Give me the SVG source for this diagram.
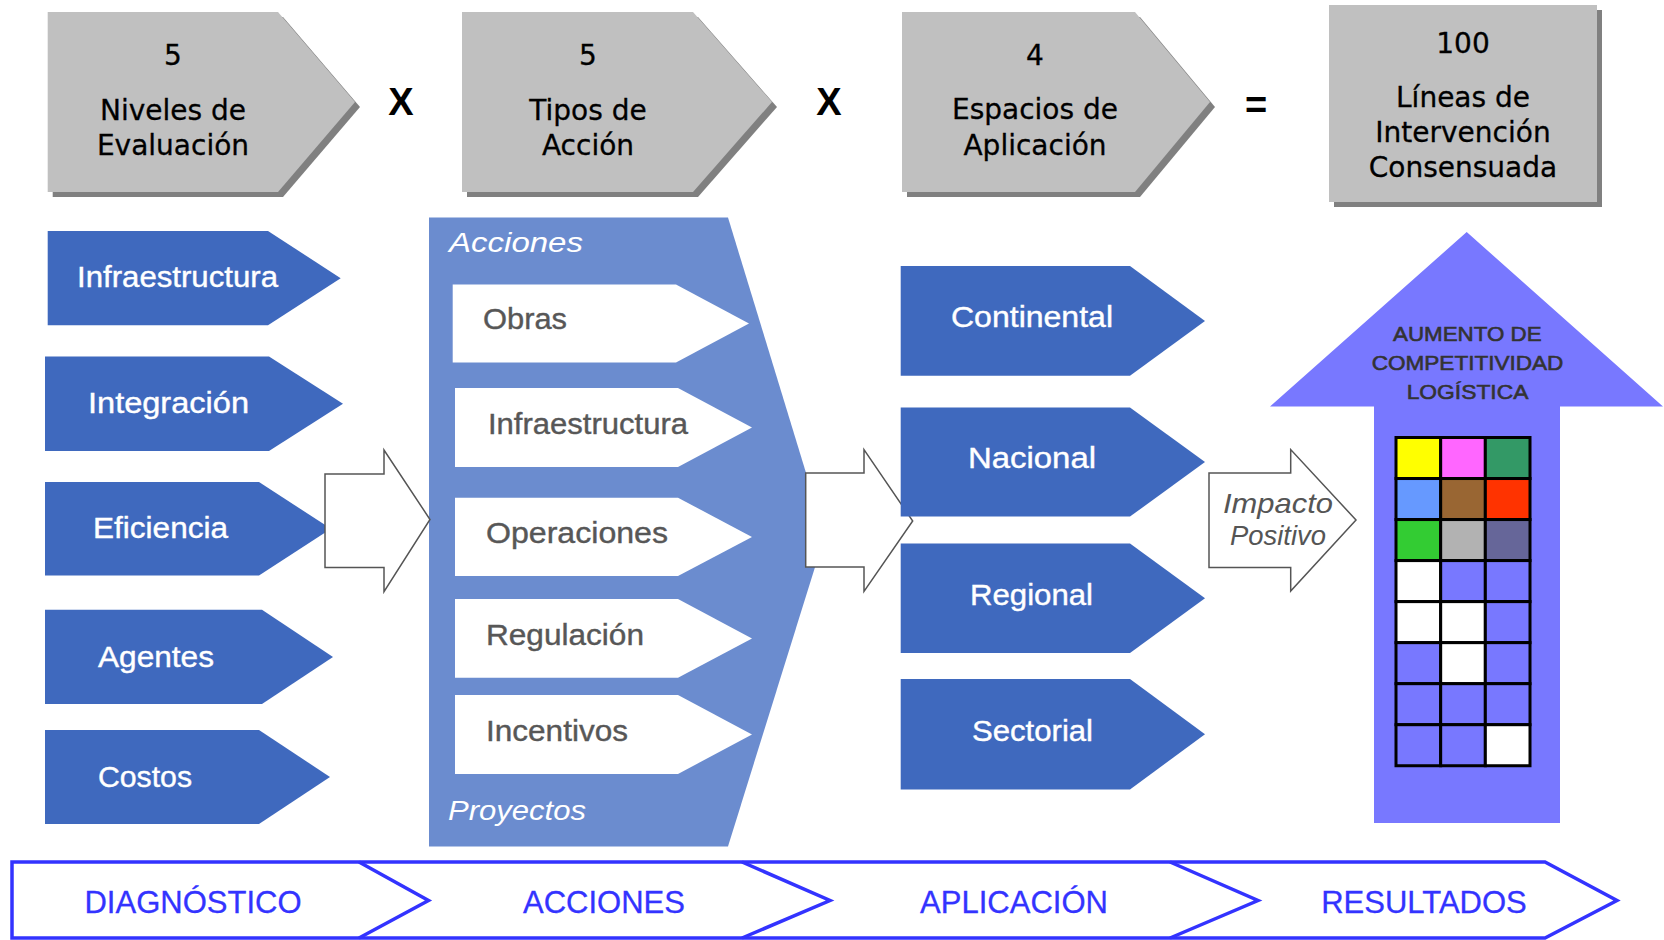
<svg xmlns="http://www.w3.org/2000/svg" width="1664" height="940" viewBox="0 0 1664 940">
<style>
.grey{fill:#C0C0C0}
.shadow{fill:#808080}
.gt{font-family:"DejaVu Sans",Verdana,sans-serif;font-size:28px;fill:#000;stroke:#000;stroke-width:0.3;text-anchor:middle}
.op{font-family:"Liberation Sans",Arial,sans-serif;font-size:38px;font-weight:bold;fill:#000;text-anchor:middle}
.blue{fill:#3F69BE}
.bt{font-family:"Liberation Sans",Arial,sans-serif;font-size:30px;fill:#FFFFFF;stroke:#FFFFFF;stroke-width:0.4}
.panel{fill:#6B8CCF}
.white{fill:#FFFFFF}
.wt{font-family:"Liberation Sans",Arial,sans-serif;font-size:30px;fill:#575757;stroke:#575757;stroke-width:0.4}
.it{font-family:"Liberation Sans",Arial,sans-serif;font-size:27px;font-style:italic;fill:#FFFFFF}
.hollow{fill:#FFFFFF;stroke:#555555;stroke-width:1.5}
.imp{font-family:"Liberation Sans",Arial,sans-serif;font-size:28px;font-style:italic;fill:#555555}
.up{fill:#7878FF}
.ut{font-family:"Liberation Sans",Arial,sans-serif;font-size:21px;fill:#333333;stroke:#333333;stroke-width:0.6}
.cell{stroke:#000;stroke-width:3}
.band{fill:none;stroke:#3333FF;stroke-width:3.5;stroke-linejoin:miter}
.bl{font-family:"Liberation Sans",Arial,sans-serif;font-size:31px;fill:#3333FF;stroke:#3333FF;stroke-width:0.3;text-anchor:middle}
</style>

<!-- top grey headers -->
<g id="hdr-niveles">
<polygon class="shadow" points="52.7,17 283,17 360,107 283,197 52.7,197"/>
<polygon class="grey" points="47.7,12 278,12 355,102 278,192 47.7,192"/>
<text class="gt" x="173" y="65">5</text>
<text class="gt" x="173" y="120">Niveles de</text>
<text class="gt" x="173" y="155">Evaluación</text>
</g>
<text class="op" x="401" y="115">X</text>
<g id="hdr-tipos">
<polygon class="shadow" points="467,17 698,17 777,107 698,197 467,197"/>
<polygon class="grey" points="462,12 693,12 772,102 693,192 462,192"/>
<text class="gt" x="588" y="65">5</text>
<text class="gt" x="588" y="120">Tipos de</text>
<text class="gt" x="588" y="155">Acción</text>
</g>
<text class="op" x="829" y="115">X</text>
<g id="hdr-espacios">
<polygon class="shadow" points="907,17 1140,17 1215,107 1140,197 907,197"/>
<polygon class="grey" points="902,12 1135,12 1210,102 1135,192 902,192"/>
<text class="gt" x="1035" y="65">4</text>
<text class="gt" x="1035" y="119">Espacios de</text>
<text class="gt" x="1035" y="155">Aplicación</text>
</g>
<text class="op" x="1256" y="118">=</text>
<g id="hdr-lineas">
<rect class="shadow" x="1334" y="10" width="268" height="197"/>
<rect class="grey" x="1329" y="5" width="268" height="197"/>
<text class="gt" x="1463" y="53">100</text>
<text class="gt" x="1463" y="107">Líneas de</text>
<text class="gt" x="1463" y="142">Intervención</text>
<text class="gt" x="1463" y="177">Consensuada</text>
</g>

<!-- left column -->
<g id="lv-infraestructura">
<polygon class="blue" points="47.7,231 268,231 340.7,278.2 268,325.3 47.7,325.3"/>
<text class="bt" x="77" y="287" textLength="201" lengthAdjust="spacingAndGlyphs">Infraestructura</text>
</g>
<g id="lv-integracion">
<polygon class="blue" points="45,356.6 269,356.6 343,403.8 269,451 45,451"/>
<text class="bt" x="88" y="413" textLength="161" lengthAdjust="spacingAndGlyphs">Integración</text>
</g>
<g id="lv-eficiencia">
<polygon class="blue" points="45,482 259,482 331,528.8 259,575.6 45,575.6"/>
<text class="bt" x="93" y="537.5" textLength="135" lengthAdjust="spacingAndGlyphs">Eficiencia</text>
</g>
<g id="lv-agentes">
<polygon class="blue" points="45,609.8 262,609.8 333,657 262,704 45,704"/>
<text class="bt" x="98" y="667" textLength="116" lengthAdjust="spacingAndGlyphs">Agentes</text>
</g>
<g id="lv-costos">
<polygon class="blue" points="45,730 259,730 330,777 259,824 45,824"/>
<text class="bt" x="98" y="786.5" textLength="94" lengthAdjust="spacingAndGlyphs">Costos</text>
</g>

<!-- middle panel -->
<g id="acciones-panel">
<polygon class="panel" points="429,217.5 728,217.5 825,535 728,846.4 429,846.4"/>
<text class="it" x="449" y="251.5" textLength="134" lengthAdjust="spacingAndGlyphs">Acciones</text>
<text class="it" x="448" y="819.5" textLength="138" lengthAdjust="spacingAndGlyphs">Proyectos</text>
</g>
<g id="ac-obras">
<polygon class="white" points="452.7,284.6 676,284.6 749,323.6 676,362.6 452.7,362.6"/>
<text class="wt" x="483" y="329.4" textLength="84" lengthAdjust="spacingAndGlyphs">Obras</text>
</g>
<g id="ac-infraestructura">
<polygon class="white" points="455,388 678,388 752,427.5 678,467 455,467"/>
<text class="wt" x="488" y="434" textLength="200" lengthAdjust="spacingAndGlyphs">Infraestructura</text>
</g>
<g id="ac-operaciones">
<polygon class="white" points="455,497.7 678,497.7 752,537 678,576 455,576"/>
<text class="wt" x="486" y="543" textLength="182" lengthAdjust="spacingAndGlyphs">Operaciones</text>
</g>
<g id="ac-regulacion">
<polygon class="white" points="455,599 678,599 752,638.4 678,677.7 455,677.7"/>
<text class="wt" x="486" y="644.5" textLength="158" lengthAdjust="spacingAndGlyphs">Regulación</text>
</g>
<g id="ac-incentivos">
<polygon class="white" points="455,695 678,695 752,734.5 678,774 455,774"/>
<text class="wt" x="486" y="740.7" textLength="142" lengthAdjust="spacingAndGlyphs">Incentivos</text>
</g>

<!-- connectors -->
<g id="connectors">
<polygon class="hollow" points="325,474 384,474 384,450 430,519.5 384,591.7 384,567.6 325,567.6"/>
<polygon class="hollow" points="805.7,473 864,473 864,449.6 912.7,521 864,591.4 864,567 805.7,567"/>
<polygon class="hollow" points="1209,473 1290.7,473 1290.7,449.6 1356,520 1290.7,591 1290.7,567.5 1209,567.5"/>
<text class="imp" x="1223" y="512.8" textLength="110" lengthAdjust="spacingAndGlyphs">Impacto</text>
<text class="imp" x="1230" y="544.5" textLength="96" lengthAdjust="spacingAndGlyphs">Positivo</text>
</g>

<!-- right column -->
<g id="es-continental">
<polygon class="blue" points="900.7,266 1130,266 1205,320.9 1130,375.8 900.7,375.8"/>
<text class="bt" x="951" y="327" textLength="162" lengthAdjust="spacingAndGlyphs">Continental</text>
</g>
<g id="es-nacional">
<polygon class="blue" points="900.7,407.5 1130,407.5 1205,462 1130,516.6 900.7,516.6"/>
<text class="bt" x="968" y="468" textLength="128" lengthAdjust="spacingAndGlyphs">Nacional</text>
</g>
<g id="es-regional">
<polygon class="blue" points="900.7,543.4 1130,543.4 1205,598.2 1130,653 900.7,653"/>
<text class="bt" x="970" y="604.6" textLength="123" lengthAdjust="spacingAndGlyphs">Regional</text>
</g>
<g id="es-sectorial">
<polygon class="blue" points="900.7,679 1130,679 1205,734.2 1130,789.5 900.7,789.5"/>
<text class="bt" x="972" y="740.5" textLength="121" lengthAdjust="spacingAndGlyphs">Sectorial</text>
</g>

<!-- results arrow -->
<g id="resultado">
<polygon class="up" points="1466.7,232 1663,406.6 1560,406.6 1560,823 1374,823 1374,406.6 1270,406.6"/>
<text class="ut" x="1393" y="341.4" textLength="148.7" lengthAdjust="spacingAndGlyphs">AUMENTO DE</text>
<text class="ut" x="1371.7" y="370" textLength="191.7" lengthAdjust="spacingAndGlyphs">COMPETITIVIDAD</text>
<text class="ut" x="1406.7" y="399" textLength="121.7" lengthAdjust="spacingAndGlyphs">LOGÍSTICA</text>
<g id="grid">
<rect class="cell" x="1396" y="437.5" width="44.67" height="41.03" fill="#FFFF00"/>
<rect class="cell" x="1440.67" y="437.5" width="44.67" height="41.03" fill="#FF66FF"/>
<rect class="cell" x="1485.33" y="437.5" width="44.67" height="41.03" fill="#339966"/>
<rect class="cell" x="1396" y="478.53" width="44.67" height="41.03" fill="#6699FF"/>
<rect class="cell" x="1440.67" y="478.53" width="44.67" height="41.03" fill="#996633"/>
<rect class="cell" x="1485.33" y="478.53" width="44.67" height="41.03" fill="#FF3300"/>
<rect class="cell" x="1396" y="519.56" width="44.67" height="41.03" fill="#33CC33"/>
<rect class="cell" x="1440.67" y="519.56" width="44.67" height="41.03" fill="#B2B2B2"/>
<rect class="cell" x="1485.33" y="519.56" width="44.67" height="41.03" fill="#666699"/>
<rect class="cell" x="1396" y="560.59" width="44.67" height="41.03" fill="#FFFFFF"/>
<rect class="cell" x="1440.67" y="560.59" width="44.67" height="41.03" fill="#7878FF"/>
<rect class="cell" x="1485.33" y="560.59" width="44.67" height="41.03" fill="#7878FF"/>
<rect class="cell" x="1396" y="601.62" width="44.67" height="41.03" fill="#FFFFFF"/>
<rect class="cell" x="1440.67" y="601.62" width="44.67" height="41.03" fill="#FFFFFF"/>
<rect class="cell" x="1485.33" y="601.62" width="44.67" height="41.03" fill="#7878FF"/>
<rect class="cell" x="1396" y="642.65" width="44.67" height="41.03" fill="#7878FF"/>
<rect class="cell" x="1440.67" y="642.65" width="44.67" height="41.03" fill="#FFFFFF"/>
<rect class="cell" x="1485.33" y="642.65" width="44.67" height="41.03" fill="#7878FF"/>
<rect class="cell" x="1396" y="683.68" width="44.67" height="41.03" fill="#7878FF"/>
<rect class="cell" x="1440.67" y="683.68" width="44.67" height="41.03" fill="#7878FF"/>
<rect class="cell" x="1485.33" y="683.68" width="44.67" height="41.03" fill="#7878FF"/>
<rect class="cell" x="1396" y="724.71" width="44.67" height="41.03" fill="#7878FF"/>
<rect class="cell" x="1440.67" y="724.71" width="44.67" height="41.03" fill="#7878FF"/>
<rect class="cell" x="1485.33" y="724.71" width="44.67" height="41.03" fill="#FFFFFF"/>
</g>
</g>

<!-- bottom phase band -->
<g id="phases">
<path class="band" d="M12,862 H1545 L1617,900.5 L1545,938 H12 Z"/>
<path class="band" d="M359,862 L428.5,900.5 L359,938 M742,862 L830,900.5 L742,938 M1170,862 L1258,900.5 L1170,938"/>
<text class="bl" x="193" y="912.7">DIAGNÓSTICO</text>
<text class="bl" x="604" y="912.7">ACCIONES</text>
<text class="bl" x="1014" y="912.7">APLICACIÓN</text>
<text class="bl" x="1424" y="912.7">RESULTADOS</text>
</g>
</svg>
